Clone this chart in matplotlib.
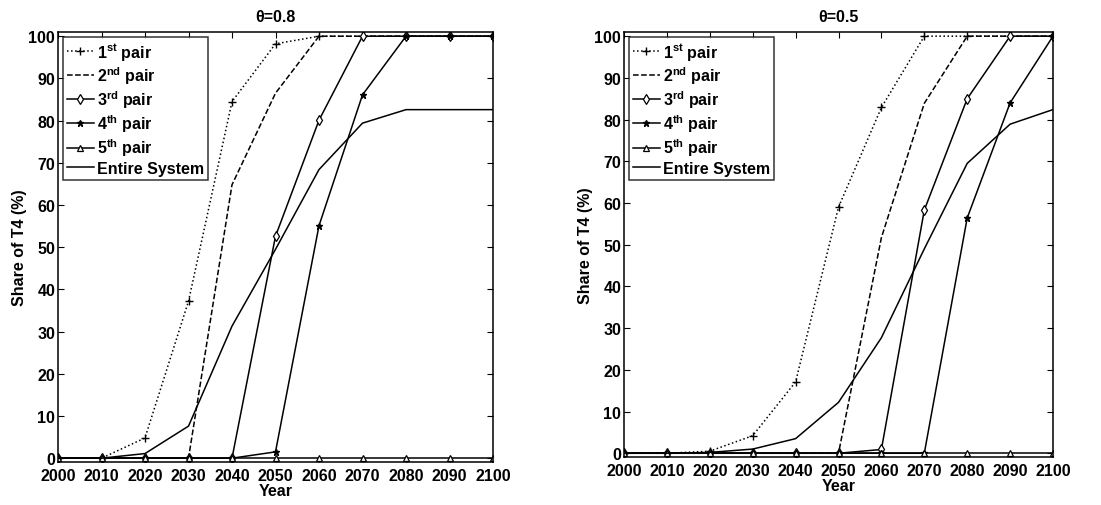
import numpy as np
import matplotlib
matplotlib.use("Agg")
import matplotlib.pyplot as plt

plt.rcParams['font.family'] = ['Liberation Sans', 'DejaVu Sans']
plt.rcParams['font.weight'] = 'bold'
plt.rcParams['mathtext.fontset'] = 'custom'
plt.rcParams['mathtext.rm'] = 'Liberation Sans:bold'
plt.rcParams['mathtext.bf'] = 'Liberation Sans:bold'

years = [2000, 2010, 2020, 2030, 2040, 2050, 2060, 2070, 2080, 2090, 2100]

# theta = 0.8
pair1_08 = [0, 0, 4.8, 37.2, 84.5, 98.2, 100, 100, 100, 100, 100]
pair2_08 = [0, 0, 0, 0, 64.8, 86.5, 100, 100, 100, 100, 100]
pair3_08 = [0, 0, 0, 0, 0, 52.6, 80.1, 100, 100, 100, 100]
pair4_08 = [0, 0, 0, 0, 0, 1.5, 55.1, 86.1, 100, 100, 100]
pair5_08 = [0, 0, 0, 0, 0, 0, 0, 0, 0, 0, 0]
system_08 = [0, 0, 1.1, 7.6, 31.3, 49.5, 68.4, 79.4, 82.6, 82.6, 82.6]

# theta = 0.5
pair1_05 = [0, 0, 0.5, 4.2, 17.1, 59.0, 82.9, 100, 100, 100, 100]
pair2_05 = [0, 0, 0, 0, 0, 0, 51.7, 83.9, 100, 100, 100]
pair3_05 = [0, 0, 0, 0, 0, 0, 0.9, 58.3, 85.0, 100, 100]
pair4_05 = [0, 0, 0, 0, 0, 0, 0, 0, 56.4, 84.0, 100]
pair5_05 = [0, 0, 0, 0, 0, 0, 0, 0, 0, 0, 0]
system_05 = [0, 0, 0.2, 1.0, 3.5, 12.2, 27.7, 49.0, 69.5, 78.9, 82.4]

labels = [r'1$^{\mathrm{st}}$ pair', r'2$^{\mathrm{nd}}$ pair', r'3$^{\mathrm{rd}}$ pair',
          r'4$^{\mathrm{th}}$ pair', r'5$^{\mathrm{th}}$ pair', 'Entire System']


def draw(ax, series, title):
    p1, p2, p3, p4, p5, sysv = series
    ax.plot(years, p1, color='black', ls=':', lw=1.1, marker='+', ms=6, mew=1, label=labels[0])
    ax.plot(years, p2, color='black', ls='--', lw=1.1, label=labels[1])
    ax.plot(years, p3, color='black', ls='-', lw=1.1, marker='d', ms=5, mfc='white', mew=0.9, label=labels[2])
    ax.plot(years, p4, color='black', ls='-', lw=1.1, marker='*', ms=5, label=labels[3])
    ax.plot(years, p5, color='black', ls='-', lw=1.1, marker='^', ms=5, mfc='white', mew=0.9, label=labels[4])
    ax.plot(years, sysv, color='black', ls='-', lw=1.1, label=labels[5])
    ax.set_xlim(2000, 2100)
    ax.set_ylim(-0.9, 101)
    ax.set_xticks(years)
    ax.set_yticks(np.arange(0, 101, 10))
    ax.tick_params(direction='in', top=True, right=True, labelsize=11.5, length=4)
    ax.tick_params(axis='x', pad=4)
    ax.tick_params(axis='y', pad=2)
    ax.set_title(title, fontsize=11.5, fontweight='bold', pad=8)
    ax.set_xlabel('Year', fontsize=11.5, fontweight='bold', labelpad=0)
    ax.set_ylabel('Share of T4 (%)', fontsize=11.5, fontweight='bold', labelpad=1)
    for s in ax.spines.values():
        s.set_linewidth(1.1)
    leg = ax.legend(loc='upper left', fontsize=11.5, frameon=True, fancybox=False,
                    edgecolor='black', handlelength=1.7, handletextpad=0.2,
                    labelspacing=0.15, borderpad=0.25, borderaxespad=0.3)
    leg.get_frame().set_linewidth(1.1)
    for t in leg.get_texts():
        t.set_fontweight('bold')


fig = plt.figure(figsize=(11.01, 5.06), dpi=100)
ax1 = fig.add_axes([58 / 1101, 1 - 463 / 506, 435 / 1101, 430 / 506])
ax2 = fig.add_axes([624 / 1101, 1 - 458 / 506, 429 / 1101, 425 / 506])
draw(ax1, [pair1_08, pair2_08, pair3_08, pair4_08, pair5_08, system_08], 'θ=0.8')
draw(ax2, [pair1_05, pair2_05, pair3_05, pair4_05, pair5_05, system_05], 'θ=0.5')

fig.savefig('out.png', dpi=100)
